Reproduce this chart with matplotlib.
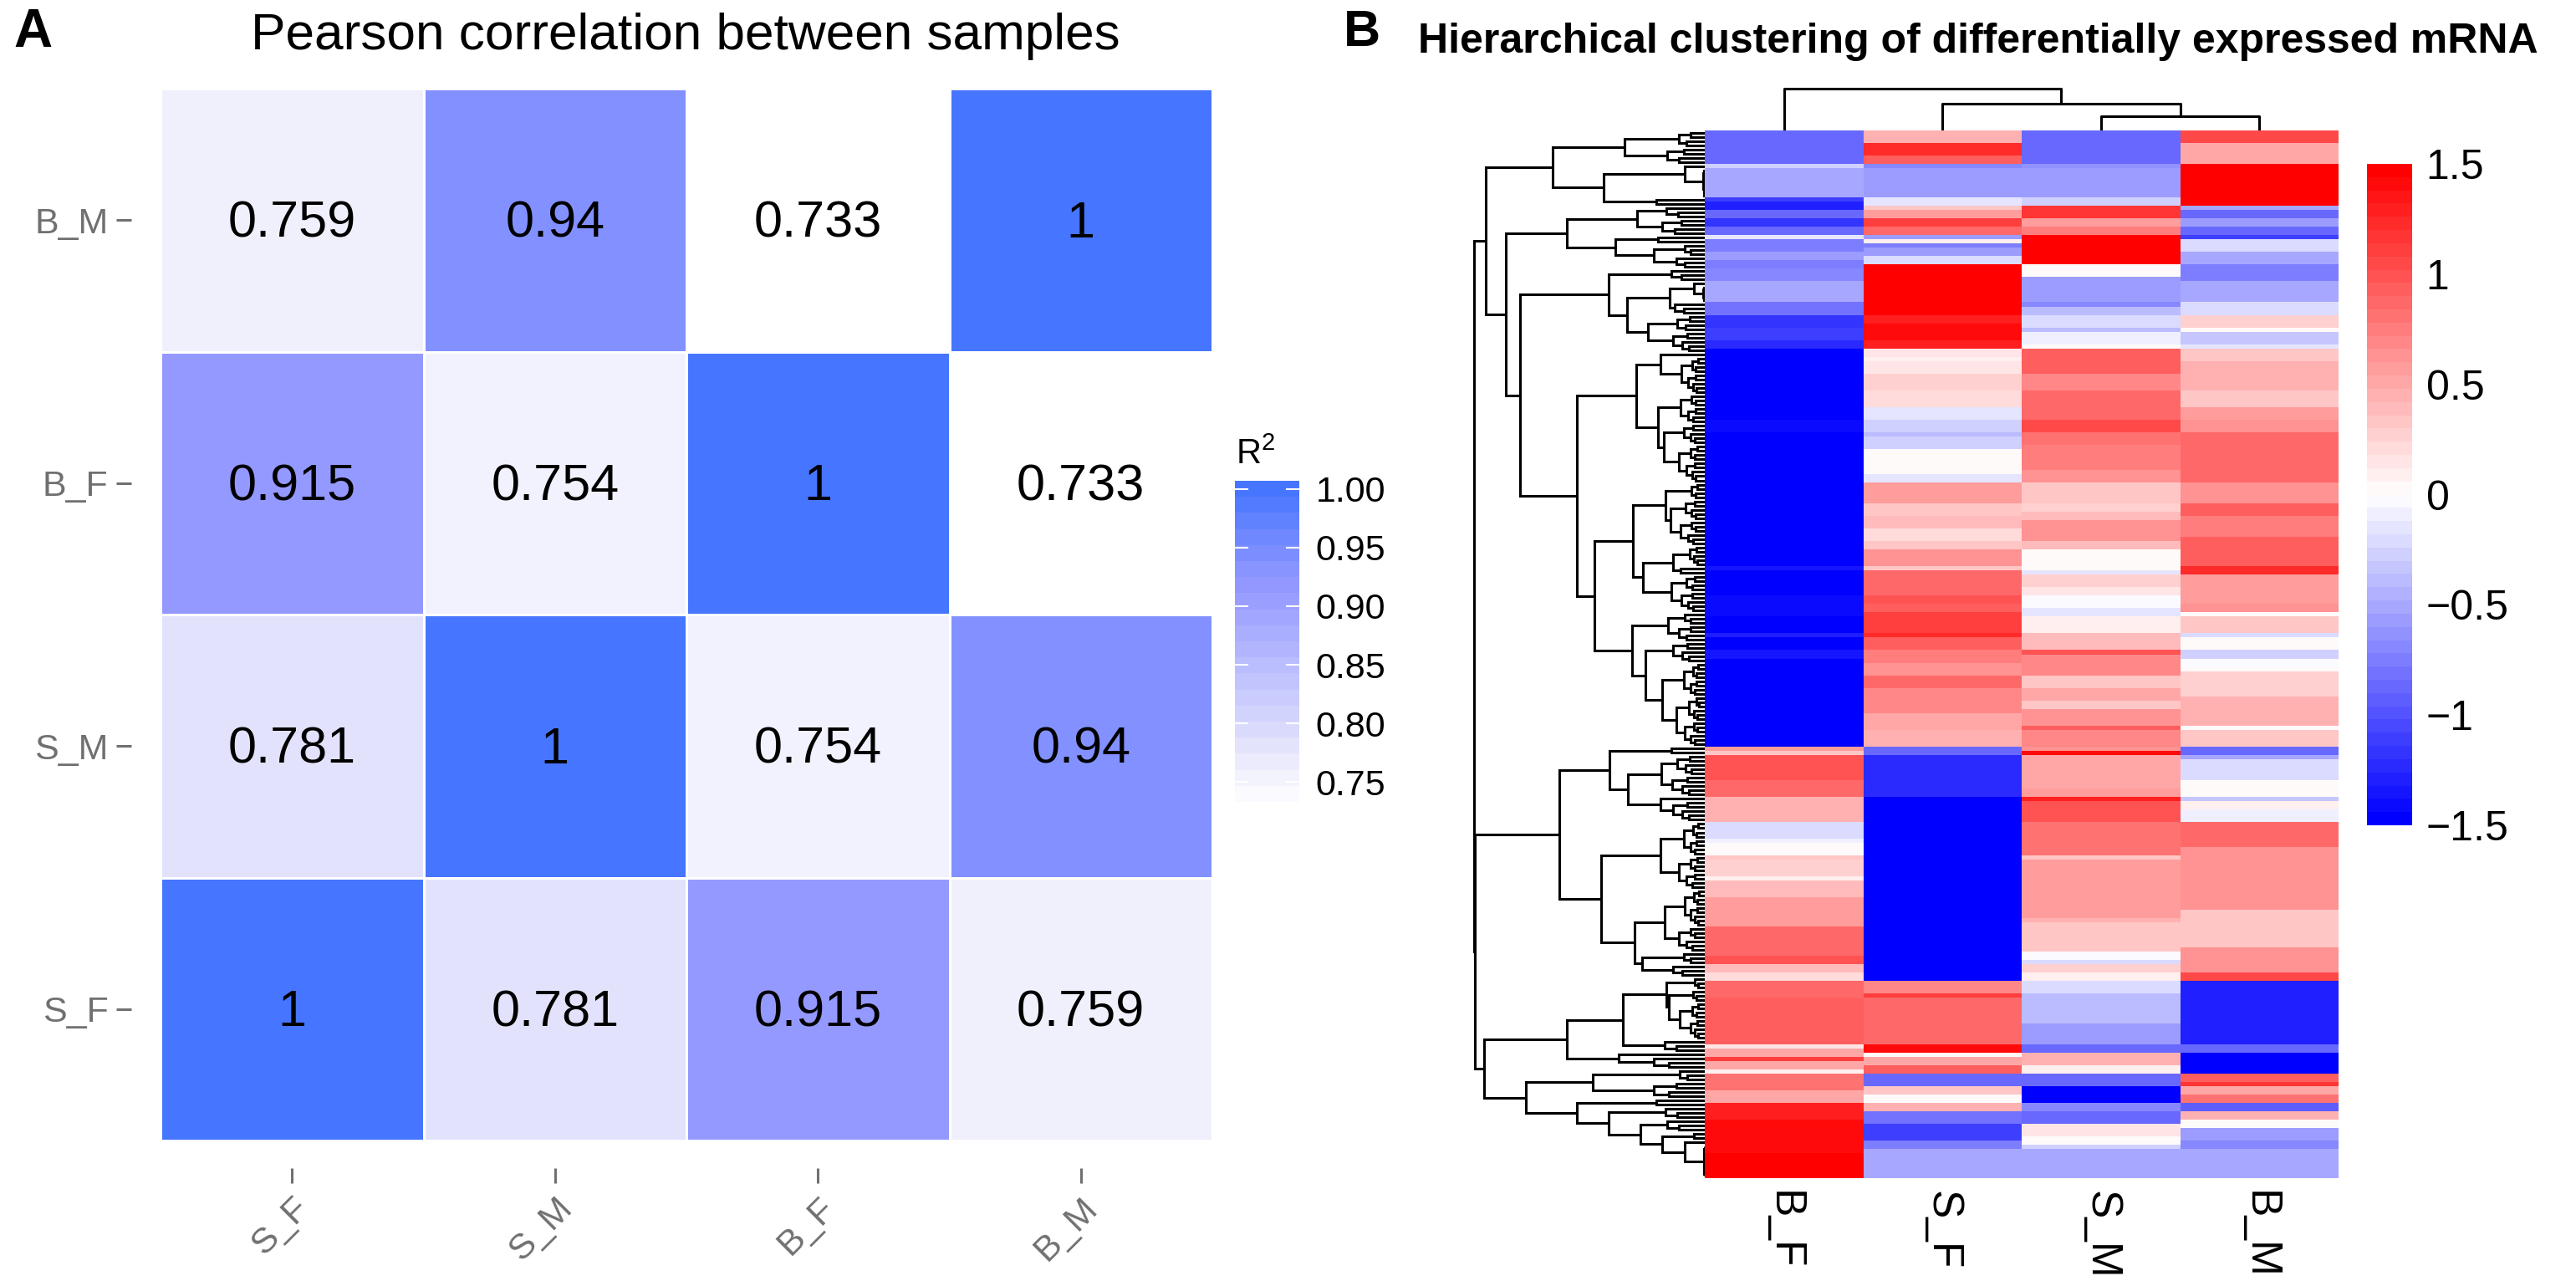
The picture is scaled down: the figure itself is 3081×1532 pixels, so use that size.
import matplotlib
matplotlib.use("Agg")
import matplotlib.pyplot as plt
import numpy as np
from matplotlib.colors import LinearSegmentedColormap
from matplotlib import font_manager

plt.rcParams['font.family'] = ['Liberation Sans', 'DejaVu Sans']
plt.rcParams['mathtext.default'] = 'regular'
plt.rcParams['mathtext.fontset'] = 'custom'
plt.rcParams['mathtext.rm'] = 'Liberation Sans'

W, H = 3081, 1532

# panel A
samples = ['S_F', 'S_M', 'B_F', 'B_M']
corr = [[1, 0.781, 0.915, 0.759],
        [0.781, 1, 0.754, 0.94],
        [0.915, 0.754, 1, 0.733],
        [0.759, 0.94, 0.733, 1]]
corr_labels = [['1', '0.781', '0.915', '0.759'],
               ['0.781', '1', '0.754', '0.94'],
               ['0.915', '0.754', '1', '0.733'],
               ['0.759', '0.94', '0.733', '1']]
r2_ticks = [0.75, 0.80, 0.85, 0.90, 0.95, 1.00]
r2_stops = [0.733, 0.781, 0.915, 0.94, 1.0]
r2_colors = ['#ffffff', '#e2e2fc', '#9499ff', '#8291ff', '#4675ff']

# panel B, every column as values + number of rows each value holds
b_cols = ['B_F', 'S_F', 'S_M', 'B_M']
bf_vals = [-0.85, -0.25, -0.5, -1.1, -1.3, -0.85, -1.2, -0.85, -0.15, -0.75, -0.55, -0.75, -0.7, -0.5, -0.8, -1.2, -1.1, -1.25,
           -1.5, -1.4, -1.45, -1.5, -1.35, -1.5, -1.4, -1.5, -1.3, -1.45, -1.35, -1.5,
           0.55, 0.3, 1.0, 0.85, 0.45, -0.2, -0.1, 0, 0.3, 0.25, 0.1, 0.4, 0.55, 0.85, 1.0, 0.4, 0.2, 0.85, 0.9, 0.15, 0.5, 1.1, 0.5, 0.1, 0.8, 0.5, 1.3, 1.4, 1.5]
bf_rows = [8, 1, 7, 1, 2, 2, 2, 2, 1, 3, 2, 2, 3, 5, 3, 3, 3, 2,
           17, 3, 10, 22, 1, 6, 5, 4, 1, 3, 2, 21,
           1, 1, 6, 4, 6, 4, 1, 3, 1, 4, 1, 4, 7, 7, 2, 2, 2, 4, 11, 1, 2, 1, 2, 1, 4, 3, 4, 8, 6]
sf_vals = [0.45, 1.25, 0.95, -0.7, -0.55, -0.15, 0.35, 0.55, 1.1, 0.85, -0.6, 0.1, -0.75, -0.55, -0.2, 1.5, 1.3, 1.4, 1.3,
           0.15, 0.08, 0.12, 0.25, 0.2, -0.15, -0.3, -0.4, -0.25, 0.05, -0.15, 0.55, 0.35, 0.3, 0.4, 0.2, 0.3, 0.6, 0.3,
           0.85, 1.0, 0.9, 1.1, 1.2, 0.95, 0.75, 0.65, 0.85, 0.7, 0.5, 0.45, -0.85, -1.25, -1.5,
           0.7, 1.1, 0.85, 1.4, 0, 0.5, 0.9, -0.85, 0.35, 0, 0.45, -0.8, -1.1, -0.75, -0.5]
sf_rows = [3, 3, 2, 1, 7, 2, 1, 2, 2, 2, 1, 1, 1, 2, 2, 12, 2, 4, 2,
           2, 1, 3, 4, 4, 3, 3, 1, 3, 6, 2, 5, 2, 1, 3, 3, 2, 4, 1,
           6, 2, 2, 5, 1, 3, 3, 3, 3, 6, 4, 4, 2, 10, 44,
           3, 1, 11, 2, 1, 2, 2, 3, 2, 2, 2, 3, 4, 2, 7]
sm_vals = [-0.85, -0.65, -0.55, -0.3, 1.15, 0.55, 0.75, 1.45, 0.05, 0, -0.55, -0.7, -0.4, -0.2, -0.4, -0.1, 0,
           0.95, 0.9, 0.7, 0.85, 1.05, 0.8, 0.75, 0.6, 0.3, 0.25, 0.4, 0.6, 0.65, 0.4, 0.02, -0.15, 0.25, 0.12, -0.03, -0.15, 0.1, 0.4,
           1.0, 0.7, 0.35, 0.5, 0.35, 0.6, 0.9, 0.7, 0.6, 1.4, 0.5, 0.55, 1.3, 1.0, 0.8, 0.3, 0.55, 0.45, 0.3, -0.02, -0.2, 0.25, 0.1,
           -0.2, -0.4, -0.6, -0.85, 0.45, 0.1, -0.85, -1.5, -0.7, -0.85, 0.15, 0.05, -0.3, -0.5]
sm_rows = [8, 1, 7, 2, 3, 2, 2, 7, 2, 1, 6, 1, 2, 3, 1, 3, 1,
           2, 4, 4, 7, 3, 3, 6, 3, 5, 2, 2, 2, 3, 2, 5, 1, 3, 2, 3, 2, 4, 4,
           1, 5, 3, 3, 2, 4, 1, 4, 1, 1, 8, 2, 1, 5, 8, 1, 14, 1, 7, 2, 1, 2, 2,
           3, 7, 5, 2, 3, 2, 3, 4, 2, 3, 3, 2, 1, 7]
bm_vals = [1.05, 0.5, 1.5, -0.5, -0.85, -0.55, -0.85, -1.1, -0.2, -0.5, -0.75, -0.5, -0.2, 0.25, 0.05, -0.35, -0.15,
           0.3, 0.45, 0.35, 0.55, 0.65, 0.85, 0.6, 0.95, 0.75, 0.95, 1.2, 0.55, 0.65, 0, 0.3, -0.2, 0, -0.25, -0.02, 0.05,
           0.25, 0.45, 0.05, 0.35, -0.85, -0.5, -0.2, 0.02, -0.35, 0.1, -0.12, 0.85, 0.65, 0.3, 0.6, 1.05, -1.3, -0.85, -1.5,
           0.9, 1.15, 0.5, 0.8, -0.95, 0.45, 0.02, -0.55, -0.7, -0.5]
bm_rows = [3, 5, 10, 1, 2, 2, 2, 1, 3, 3, 4, 5, 3, 3, 1, 3, 1,
           3, 7, 4, 3, 3, 12, 5, 3, 5, 7, 2, 7, 2, 1, 4, 1, 3, 2, 2, 1,
           6, 7, 1, 4, 2, 1, 5, 4, 1, 2, 3, 6, 15, 9, 6, 2, 15, 2, 5,
           2, 1, 2, 2, 2, 2, 2, 3, 2, 7]
col_merges = [17, 32, 50]

# row tree: (height, a, b) is a merge, (height, n) a tight group of n rows, 1 a single row
upper_tree = (262,
              (182,
               (96, (31, 4), (45, 4)),
               (121, (24, 1, (2, 7)), (58, 2))),
              (238,
               (165,
                (81, (46, 3), (51, 4)),
                (107, (56, 2), (61, (24, 3), (34, 3)))),
               (221,
                (115,
                 (40, 3),
                 (93,
                  (42, (13, 1, (2, 4)), (36, 3)),
                  (68, (33, 4), (38, 5)))),
                (153,
                 (82,
                  (53, 1, (28, 9)),
                  (56, (29, 7), (49, (25, 5), (31, 9)))),
                 (132,
                  (86,
                   (47, (16, 4), (41, 11)),
                   (74, (38, (18, 5), (29, 2)), (40, 9))),
                  (87,
                   (44, 7),
                   (71, (38, 5), (51, (25, 8), (34, 12)))))))))
middle_tree = (174,
               (114,
                (40, 2),
                (92,
                 (52, (33, 5), (39, 5)),
                 (53, 1, (38, 5)))),
               (124,
                (53, (25, 8), (31, 8)),
                (84,
                 (48, (24, 9), (31, 6)),
                 (75, (25, 3), (38, 3)))))
lower_tree = (264,
              (165,
               (98,
                (46, (12, 3), (43, (14, 3), (30, (15, 4), (17, 5)))),
                (48, 3)),
               (103, 1, (61, 3))),
              (214,
               (134, (30, 3), (61, 4)),
               (153,
                (58, 2),
                (115,
                 (47, 3),
                 (77,
                  (45, 3),
                  (51, (13, 2), (24, 1, (1, 8))))))))
row_tree = (276, upper_tree, (275, middle_tree, lower_tree))

installed = {f.name for f in font_manager.fontManager.ttflist}
narrow = 'Liberation Sans Narrow' if 'Liberation Sans Narrow' in installed else 'Liberation Sans'
bar_size = 41 if narrow == 'Liberation Sans Narrow' else 36


def px_axes(x0, y0, x1, y1):
    ax = fig.add_axes([x0 / W, 1 - y1 / H, (x1 - x0) / W, (y1 - y0) / H])
    return ax


def draw_tree(ax, node, row):
    # returns the row position of the node and the next free row
    if node == 1:
        return row + 0.5, row + 1
    if len(node) == 2:
        h, n = node
        if n == 1:
            return row + 0.5, row + 1
        k = n // 2
        a = (h * 0.55, k) if k > 1 else 1
        b = (h * 0.7, n - k) if n - k > 1 else 1
        node = (h, a, b)
    h, a, b = node
    ya, row = draw_tree(ax, a, row)
    yb, row = draw_tree(ax, b, row)
    ha = a[0] if a != 1 else 0
    hb = b[0] if b != 1 else 0
    ax.plot([ha, h, h, hb], [ya, ya, yb, yb], color='k', lw=2.2, solid_joinstyle='miter', solid_capstyle='butt')
    return (ya + yb) / 2, row


fig = plt.figure(figsize=(W / 100, H / 100), dpi=100)

# A heatmap
r2_cmap = LinearSegmentedColormap.from_list('r2', [((s - 0.733) / (1 - 0.733), c) for s, c in zip(r2_stops, r2_colors)])
ax = px_axes(192, 106, 1450, 1364)
ax.spines['bottom'].set_position(('outward', 24))
ax.spines['left'].set_position(('outward', 25))
ax.pcolormesh(np.array(corr), cmap=r2_cmap, vmin=0.733, vmax=1, edgecolors='white', linewidth=1.0)
for i in range(4):
    for j in range(4):
        ax.text(j + 0.5, i + 0.484, corr_labels[i][j], ha='center', va='center', fontsize=44, color='k')
ax.set_xticks(np.arange(4) + 0.5)
ax.set_xticklabels(samples, rotation=45, ha='right', va='top', rotation_mode='anchor')
ax.set_yticks(np.arange(4) + 0.5)
ax.set_yticklabels(samples)
ax.tick_params(axis='both', colors='#707070', labelsize=31, length=13, width=2.2, pad=7)
for s in ax.spines:
    ax.spines[s].set_color('none')
fig.text(820 / W, 1 - 59 / H, 'Pearson correlation between samples', ha='center', va='baseline', fontsize=44.7)

# A colour bar
cax = px_axes(1477, 575, 1554, 959)
r2_edges = np.linspace(0.733, 1.007, 21)
cax.pcolormesh([0, 1], r2_edges, ((r2_edges[:-1] + r2_edges[1:]) / 2).reshape(-1, 1), cmap=r2_cmap, vmin=0.733, vmax=1)
for t in r2_ticks:
    cax.plot([0, 0.2], [t, t], color='white', lw=1.5)
    cax.plot([0.8, 1], [t, t], color='white', lw=1.5)
cax.set_xlim(0, 1)
cax.set_ylim(0.733, 1.007)
cax.set_xticks([])
cax.set_yticks(r2_ticks)
cax.set_yticklabels(['%.2f' % t for t in r2_ticks])
cax.yaxis.tick_right()
cax.tick_params(axis='y', length=0, labelsize=31, pad=14)
for s in cax.spines:
    cax.spines[s].set_visible(False)
fig.text(1478 / W, 1 - 555 / H, 'R$^{2}$', ha='left', va='baseline', fontsize=30)

# B heatmap
exp_cmap = LinearSegmentedColormap.from_list('exp', ['#0000ff', '#ffffff', '#ff0000'], N=50)
bx = px_axes(2039, 156, 2797, 1409)
col_vals = [bf_vals, sf_vals, sm_vals, bm_vals]
col_rows = [bf_rows, sf_rows, sm_rows, bm_rows]
for c in range(4):
    edges = np.concatenate([[0], np.cumsum(col_rows[c])])
    bx.pcolormesh([c, c + 1], edges, np.array(col_vals[c], dtype=float).reshape(-1, 1), cmap=exp_cmap, vmin=-1.5, vmax=1.5)
bx.set_xlim(0, 4)
bx.set_ylim(250, 0)
bx.axis('off')
for c in range(4):
    bx.text(c + 0.5, -0.012, b_cols[c], transform=bx.get_xaxis_transform(), rotation=270, ha='center', va='top', fontsize=37)

# row dendrogram
dx = px_axes(1753, 156, 2039, 1409)
draw_tree(dx, row_tree, 0)
dx.set_xlim(286, 0)
dx.set_ylim(250, 0)
dx.axis('off')

# column dendrogram
tx = px_axes(2039, 96, 2797, 156)
h1, h2, h3 = col_merges
tx.plot([2.5, 2.5, 3.5, 3.5], [0, h1, h1, 0], color='k', lw=2.2)
tx.plot([1.5, 1.5, 3.0, 3.0], [0, h2, h2, h1], color='k', lw=2.2)
tx.plot([0.5, 0.5, 2.25, 2.25], [0, h3, h3, h2], color='k', lw=2.2)
tx.set_xlim(0, 4)
tx.set_ylim(0, 60)
tx.axis('off')

# B colour bar
ex = px_axes(2831, 196, 2885, 987)
exp_edges = np.linspace(-1.5, 1.5, 51)
ex.pcolormesh([0, 1], exp_edges, ((exp_edges[:-1] + exp_edges[1:]) / 2).reshape(-1, 1), cmap=exp_cmap, vmin=-1.5, vmax=1.5)
ex.set_xticks([])
exp_ticks = [-1.5, -1, -0.5, 0, 0.5, 1, 1.5]
ex.set_yticks(exp_ticks)
ex.set_yticklabels(['\u22121.5', '\u22121', '\u22120.5', '0', '0.5', '1', '1.5'], family=narrow)
ex.yaxis.tick_right()
ex.tick_params(axis='y', length=0, labelsize=bar_size, pad=12)
for s in ex.spines:
    ex.spines[s].set_visible(False)

# titles and panel letters
fig.text(1696 / W, 1 - 63 / H, 'Hierarchical clustering of differentially expressed mRNA', ha='left', va='baseline',
         fontsize=36, fontweight='bold')
fig.text(16 / W, 1 - 56 / H, 'A', fontsize=46, fontweight='bold', va='baseline')
fig.text(1607 / W, 1 - 55 / H, 'B', fontsize=44, fontweight='bold', va='baseline')

fig.savefig('out.png', dpi=100)
